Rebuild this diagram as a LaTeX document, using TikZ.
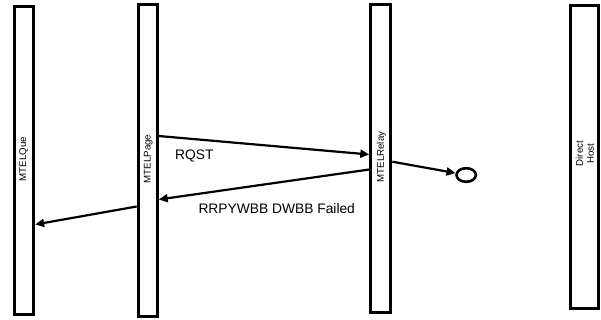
\documentclass[tikz,border=0pt]{standalone}
\usepackage{fontspec}
\setmainfont{Liberation Sans}
\usetikzlibrary{arrows.meta,shapes.geometric}
\begin{document}
\begin{tikzpicture}[x=1pt,y=-1pt,
  lane/.style={draw=black,line width=3pt,rectangle,inner sep=0pt,fill=white},
  lanelbl/.style={rotate=90,inner sep=0pt,font=\fontsize{9.7}{11}\selectfont,align=center},
  msg/.style={line width=2.2pt,-{Triangle[length=9pt,width=8pt]}},
  msglbl/.style={inner sep=0pt,anchor=base west,font=\fontsize{13.8}{16}\selectfont}]
\useasboundingbox (0,0) rectangle (601,320);
\node[lane,minimum width=19.3pt,minimum height=308.2pt] (que) at (24,160.6) {};
\node[lane,minimum width=19pt,minimum height=312pt] (page) at (147.7,160.2) {};
\node[lane,minimum width=20pt,minimum height=307.8pt] (relay) at (380.8,158.1) {};
\node[lane,minimum width=28pt,minimum height=302.5pt] (host) at (584.8,156.8) {};
\node[draw=black,line width=2.6pt,ellipse,inner sep=0pt,minimum width=19.4pt,minimum height=13.6pt] (end) at (466.2,175) {};
\node[lanelbl] (queL) at (23.7,159) {MTELQue};
\node[lanelbl] (pageL) at (148.3,159) {MTELPage};
\node[lanelbl] (relayL) at (381.3,157) {MTELRelay};
\node[lanelbl] (hostL) at (585,153.5) {Direct\\Host};
\draw[msg] (page.east |- 0,136) -- (relay.west |- 0,154.5);
\draw[msg] (relay.west |- 0,169.5) -- (page.east |- 0,199.5);
\draw[msg] (page.west |- 0,206.5) -- (que.east |- 0,224.5);
\draw[msg] (relay.east |- 0,161.7) -- (end);
\node[msglbl] (rqst) at (175,159.3) {RQST};
\node[msglbl] (fail) at (198.3,213.3) {RRPYWBB DWBB Failed};
\end{tikzpicture}
\end{document}
